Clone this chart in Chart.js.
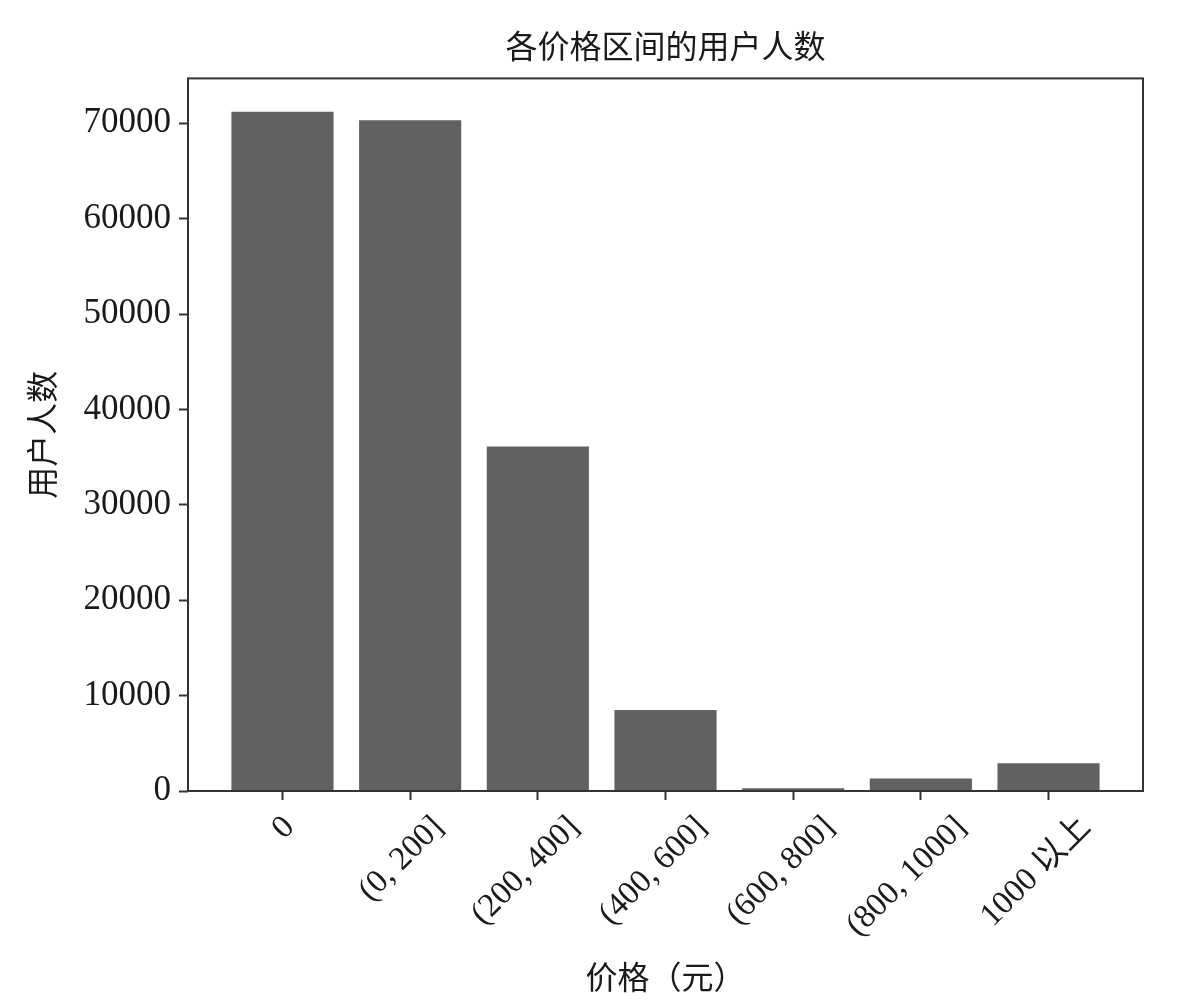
<!DOCTYPE html>
<html lang="zh">
<head>
  <meta charset="UTF-8">
  <title>各价格区间的用户人数</title>
  <script src="https://cdn.jsdelivr.net/npm/chart.js"></script>
  <style>
    html, body { margin: 0; padding: 0; background: #fff; }
    #wrap { width: 1185px; height: 1000px; }
  </style>
</head>
<body>
  <div id="wrap"><canvas id="priceChart"></canvas></div>

  <script>
    // data
    const categories = ['0', '(0, 200]', '(200, 400]', '(400, 600]', '(600, 800]', '(800, 1000]', '1000 以上'];
    const userCounts = [71200, 70300, 36100, 8500, 300, 1300, 2900];
    const yTicks = [0, 10000, 20000, 30000, 40000, 50000, 60000, 70000];

    const FONT = "'Liberation Serif', 'Noto Sans CJK SC', serif";
    const INK = '#1a1a1a';
    const FRAME = '#333333';

    // top/right frame lines + rotated x labels (centered like matplotlib)
    const framePlugin = {
      id: 'frame',
      afterDatasetsDraw(chart) {
        const a = chart.chartArea, ctx = chart.ctx;
        ctx.save();
        ctx.strokeStyle = FRAME;
        ctx.lineWidth = 2;
        ctx.strokeRect(a.left, a.top, a.right - a.left, a.bottom - a.top);
        ctx.restore();
      },
      afterDraw(chart) {
        const xs = chart.scales.x, ctx = chart.ctx;
        ctx.save();
        ctx.font = '33px ' + FONT;
        ctx.fillStyle = INK;
        ctx.textAlign = 'center';
        ctx.textBaseline = 'middle';
        xs.ticks.forEach(t => {
          const label = categories[t.value];
          const w = ctx.measureText(label).width;
          const half = (w + 32) * Math.SQRT1_2 / 2;
          const cx = xs.getPixelForValue(t.value) + 3 - w * 0.11;
          const cy = xs.top + 20 + half;
          ctx.save();
          ctx.translate(cx, cy);
          ctx.rotate(-Math.PI / 4);
          ctx.fillText(label, 0, 0);
          ctx.restore();
        });
        ctx.restore();
      }
    };

    const ctx = document.getElementById('priceChart').getContext('2d');
    new Chart(ctx, {
      type: 'bar',
      data: {
        datasets: [{
          label: '用户人数',
          data: userCounts.map((v, i) => ({ x: i, y: v })),
          backgroundColor: '#626162',
          borderWidth: 0,
          categoryPercentage: 1,
          barPercentage: 0.8
        }]
      },
      options: {
        responsive: true,
        maintainAspectRatio: false,
        animation: false,
        layout: { padding: { left: 0, right: 42, top: 0, bottom: 0 } },
        plugins: {
          legend: { display: false },
          tooltip: { enabled: false },
          title: {
            display: true,
            fullSize: false,
            text: '各价格区间的用户人数',
            color: INK,
            font: { family: FONT, size: 32, weight: 'normal' },
            padding: { top: 30, bottom: 10 }
          }
        },
        scales: {
          x: {
            type: 'linear',
            offset: false,
            min: -0.74,
            max: categories.length - 1 + 0.74,
            afterBuildTicks: axis => { axis.ticks = categories.map((_, i) => ({ value: i })); },
            afterFit: axis => { axis.height = 209; },
            ticks: { display: false },
            grid: {
              offset: false,
              drawOnChartArea: false,
              drawTicks: true,
              tickLength: 9,
              tickWidth: 2,
              tickColor: FRAME
            },
            border: { display: false },
            title: {
              display: true,
              text: '价格（元）',
              color: INK,
              font: { family: FONT, size: 32, weight: 'normal' },
              padding: { top: 14, bottom: 0 }
            }
          },
          y: {
            min: 0,
            max: 74700,
            afterBuildTicks: axis => { axis.ticks = yTicks.map(v => ({ value: v })); },
            afterFit: axis => { axis.width = 188; },
            ticks: {
              color: INK,
              font: { family: FONT, size: 35 },
              padding: 8,
              callback: v => String(v)
            },
            grid: {
              drawOnChartArea: false,
              drawTicks: true,
              tickLength: 9,
              tickWidth: 2,
              tickColor: FRAME
            },
            border: { display: false },
            title: {
              display: true,
              text: '用户人数',
              color: INK,
              font: { family: FONT, size: 32, weight: 'normal' },
              padding: { top: 26, bottom: 0 }
            }
          }
        }
      },
      plugins: [framePlugin]
    });
  </script>
</body>
</html>
